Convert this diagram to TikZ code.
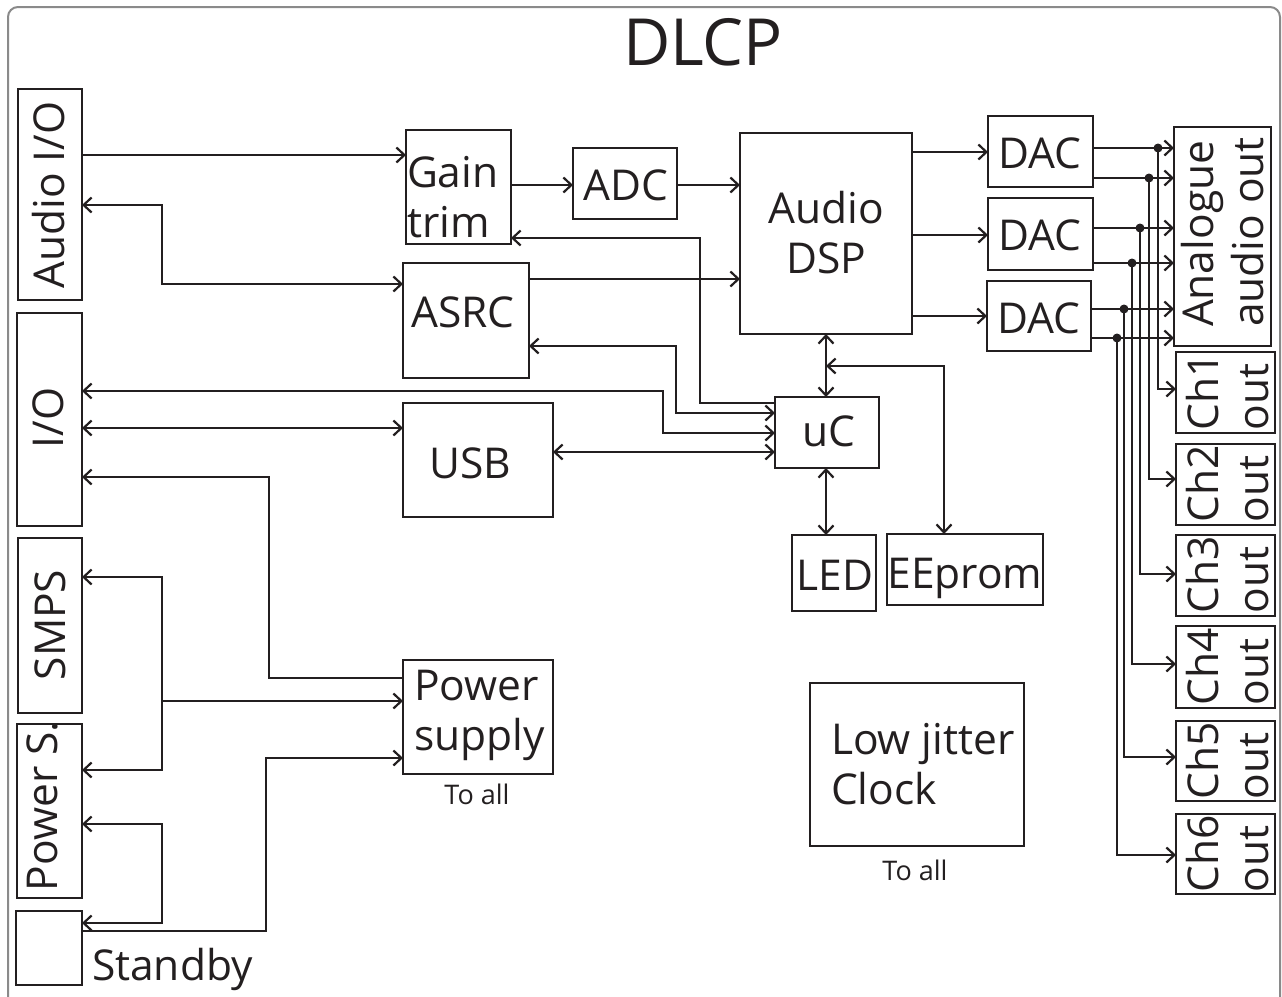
\documentclass[tikz,border=0pt]{standalone}
\usepackage{fontspec}
\setmainfont{Open Sans}
\usetikzlibrary{arrows.meta}
\definecolor{ink}{HTML}{231F20}
\definecolor{framegray}{HTML}{8A8A8A}
\newcommand\fsz[2]{\fontsize{#1}{#2}\selectfont}
\newcommand\bx[5]{\node[blk,minimum width=#4-#2,minimum height=#5-#3] (#1) at ({(#2+#4)/2},{(#3+#5)/2}) {};}
\begin{document}
\begin{tikzpicture}[x=1pt,y=-1pt,
  blk/.style={draw=ink,line width=2.6pt,inner sep=0pt,outer sep=0pt},
  lbl/.style={text=ink,inner sep=0pt,outer sep=0pt,font=\fsz{42.5}{50}},
  small/.style={text=ink,inner sep=0pt,outer sep=0pt,font=\fsz{27}{30}},
  conn/.style={draw=ink,line width=2.2pt},
  >={Straight Barb[length=8pt,width=15pt]},
  dot/.style={fill=ink}]
\useasboundingbox (0,0) rectangle (1282,996);
\begin{scope}
\clip (0,0) rectangle (1282,996);
\draw[framegray,line width=2pt,rounded corners=10pt] (8,7) rectangle (1280,1060);
\end{scope}
% title
\node[text=ink,inner sep=0pt,font=\fsz{65}{70},anchor=base] (title) at (703,65) {DLCP};
% boxes
\bx{aio}{18}{89}{82}{300}
\bx{io}{17}{313}{82}{526}
\bx{smps}{18}{538}{82}{713}
\bx{pws}{17}{724}{82}{898}
\bx{stb}{16}{911}{82}{985}
\bx{gain}{406}{130}{511}{244}
\bx{adc}{573}{148}{677}{219}
\bx{dsp}{740}{133}{912}{334}
\bx{asrc}{403}{263}{529}{378}
\bx{usb}{403}{403}{553}{517}
\bx{uc}{775}{397}{879}{468}
\bx{led}{792}{535}{876}{611}
\bx{eep}{887}{534}{1043}{605}
\bx{ps}{403}{660}{553}{774}
\bx{clk}{810}{683}{1024}{846}
\bx{dac1}{988}{116}{1093}{187}
\bx{dac2}{988}{198}{1093}{270}
\bx{dac3}{987}{281}{1091}{351}
\bx{aao}{1174}{127}{1271}{346}
\bx{ch1}{1176}{352}{1275}{433}
\bx{ch2}{1176}{444}{1275}{525}
\bx{ch3}{1176}{535}{1275}{616}
\bx{ch4}{1176}{626}{1275}{708}
\bx{ch5}{1176}{721}{1275}{801}
\bx{ch6}{1176}{814}{1275}{894}
% labels
\node[lbl,rotate=90] (taio) at (49,195) {Audio I/O};
\node[lbl,rotate=90] (tio) at (48,418) {I/O};
\node[lbl,rotate=90] (tsmps) at (50,625) {SMPS};
\node[lbl,rotate=90] (tpws) at (42,806) {Power S.};
\node[lbl,anchor=base west] (tstb) at (92,980) {Standby};
\node[lbl,align=left,anchor=west] (tgain) at (407,197) {Gain\\trim};
\node[lbl,anchor=base] (tadc) at (626,200) {ADC};
\node[lbl,align=center] (tdsp) at (826,233) {Audio\\DSP};
\node[lbl,anchor=base] (tasrc) at (463,327) {ASRC};
\node[lbl,anchor=base] (tusb) at (470,478) {USB};
\node[lbl,anchor=base] (tuc) at (829,446) {uC};
\node[lbl,anchor=base] (tled) at (835,590) {LED};
\node[lbl,anchor=base] (teep) at (965,588) {EEprom};
\node[lbl,align=left,anchor=west] (tps) at (414,715) {Power\\supply};
\node[small,anchor=base] (tpsall) at (477,804) {To all};
\node[lbl,align=left,anchor=west] (tclk) at (831,764) {Low jitter\\Clock};
\node[small,anchor=base] (tclkall) at (915,880) {To all};
\node[lbl,anchor=base] (tdac1) at (1040,168) {DAC};
\node[lbl,anchor=base] (tdac2) at (1040,250) {DAC};
\node[lbl,anchor=base] (tdac3) at (1039,333) {DAC};
\node[lbl,align=left,rotate=90] (taao) at (1223,232) {Analogue\\audio out};
\node[lbl,align=left,rotate=90] (tch1) at (1228,392) {Ch1\\out};
\node[lbl,align=left,rotate=90] (tch2) at (1228,484) {Ch2\\out};
\node[lbl,align=left,rotate=90] (tch3) at (1228,575) {Ch3\\out};
\node[lbl,align=left,rotate=90] (tch4) at (1228,667) {Ch4\\out};
\node[lbl,align=left,rotate=90] (tch5) at (1228,761) {Ch5\\out};
\node[lbl,align=left,rotate=90] (tch6) at (1228,854) {Ch6\\out};
% connectors, left side
\draw[conn,->] (aio.east |- 0,155) -- (gain.west |- 0,155);
\draw[conn,<->] (aio.east |- 0,205) -| (162,284) -- (asrc.west |- 0,284);
\draw[conn,->] (gain.east |- 0,185) -- (adc.west |- 0,185);
\draw[conn,->] (adc.east |- 0,185) -- (dsp.west |- 0,185);
\draw[conn,->] (asrc.east |- 0,279) -- (dsp.west |- 0,279);
\draw[conn,->] (uc.west |- 0,403) -| (700,238) -- (gain.east |- 0,238);
\draw[conn,<->] (asrc.east |- 0,346) -| (676,413) -- (uc.west |- 0,413);
\draw[conn,<->] (io.east |- 0,391) -| (663,433) -- (uc.west |- 0,433);
\draw[conn,<->] (io.east |- 0,428) -- (usb.west |- 0,428);
\draw[conn,<->] (usb.east |- 0,452) -- (uc.west |- 0,452);
\draw[conn,<-] (io.east |- 0,477) -| (269,678) -- (ps.west |- 0,678);
\draw[conn,<->] (smps.east |- 0,577) -| (162,770) -- (pws.east |- 0,770);
\coordinate (jps) at (162,701);
\draw[conn,->] (jps) -- (ps.west |- jps);
\draw[conn,<->] (pws.east |- 0,824) -| (162,923) -- (stb.east |- 0,923);
\draw[conn,->] (stb.east |- 0,931) -| (266,758) -- (ps.west |- 0,758);
% uC area
\draw[conn,<->] (dsp.south) -- (uc.north -| dsp.south);
\coordinate (bus) at (826,366);
\draw[conn,<->] (bus) -| (eep.north -| 944,0);
\draw[conn,<->] (uc.south -| 826,0) -- (led.north -| 826,0);
% DSP to DACs
\draw[conn,->] (dsp.east |- 0,152) -- (dac1.west |- 0,152);
\draw[conn,->] (dsp.east |- 0,235) -- (dac2.west |- 0,235);
\draw[conn,->] (dsp.east |- 0,316) -- (dac3.west |- 0,316);
% DAC outputs
\draw[conn,->] (dac1.east |- 0,148) -- (aao.west |- 0,148);
\draw[conn,->] (dac1.east |- 0,178) -- (aao.west |- 0,178);
\draw[conn,->] (dac2.east |- 0,228) -- (aao.west |- 0,228);
\draw[conn,->] (dac2.east |- 0,263) -- (aao.west |- 0,263);
\draw[conn,->] (dac3.east |- 0,309) -- (aao.west |- 0,309);
\draw[conn,->] (dac3.east |- 0,338) -- (aao.west |- 0,338);
\coordinate (d1) at (1158,148);
\coordinate (d2) at (1149,178);
\coordinate (d3) at (1140,228);
\coordinate (d4) at (1132,263);
\coordinate (d5) at (1124,309);
\coordinate (d6) at (1117,338);
\draw[conn,->] (d1) |- (ch1.west |- 0,389);
\draw[conn,->] (d2) |- (ch2.west |- 0,479);
\draw[conn,->] (d3) |- (ch3.west |- 0,574);
\draw[conn,->] (d4) |- (ch4.west |- 0,664);
\draw[conn,->] (d5) |- (ch5.west |- 0,757);
\draw[conn,->] (d6) |- (ch6.west |- 0,855);
\foreach \d in {d1,d2,d3,d4,d5,d6} \fill[dot] (\d) circle (4.5pt);
\end{tikzpicture}
\end{document}
